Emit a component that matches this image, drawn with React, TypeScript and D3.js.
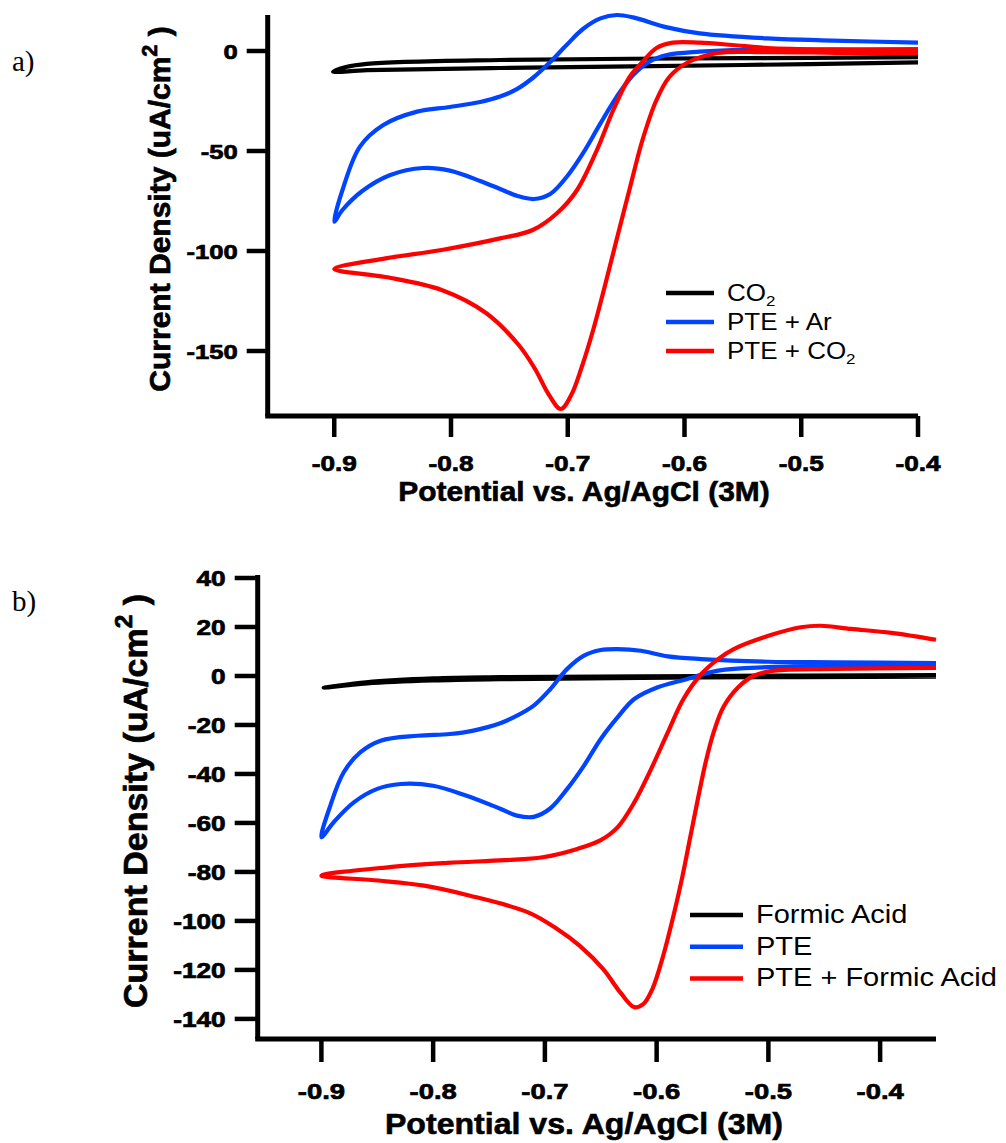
import React from "react";
import { scaleLinear, line, curveCatmullRom } from "d3";

// ---- panel a data: potential (V) vs current density (uA/cm2) ----
const co2A: [number, number][] = [
  [-0.4, -5.7], [-0.55, -7], [-0.758, -8.5], [-0.872, -9.6], [-0.901, -10.3],
  [-0.89, -8], [-0.872, -6.4], [-0.758, -4.5], [-0.55, -3.6], [-0.4, -3.1],
];
const pteArA: [number, number][] = [
  [-0.4, 0.8], [-0.5, 0.6], [-0.559, 0.5], [-0.587, -0.3], [-0.615, -2], [-0.63, -5.3],
  [-0.644, -12], [-0.658, -22.8], [-0.672, -36.2], [-0.687, -51.2], [-0.701, -63],
  [-0.715, -71.5], [-0.729, -74], [-0.743, -72.5], [-0.758, -69], [-0.775, -65],
  [-0.801, -59.8], [-0.824, -58.5], [-0.852, -62], [-0.876, -70], [-0.893, -79.5],
  [-0.9, -85.3],
  [-0.892, -67.8], [-0.878, -47.8], [-0.858, -37], [-0.829, -30.3], [-0.801, -28],
  [-0.775, -25.5], [-0.758, -22.8], [-0.744, -19.2], [-0.73, -13.5], [-0.715, -5.5],
  [-0.701, 3], [-0.687, 11], [-0.672, 16.3], [-0.658, 18], [-0.644, 16.8],
  [-0.615, 11.8], [-0.587, 8.8], [-0.529, 6.3], [-0.473, 5.2], [-0.4, 4.2],
];
const pteCo2A: [number, number][] = [
  [-0.4, -1.2], [-0.47, -0.9], [-0.53, -0.6], [-0.572, -1], [-0.598, -6], [-0.613, -13],
  [-0.624, -24.5], [-0.636, -44.5], [-0.647, -69], [-0.658, -94], [-0.668, -117],
  [-0.678, -139], [-0.688, -158], [-0.697, -172], [-0.706, -179], [-0.716, -172],
  [-0.728, -159], [-0.742, -147], [-0.77, -131], [-0.808, -119.5], [-0.856, -113],
  [-0.9, -109],
  [-0.856, -103.7], [-0.808, -99.5], [-0.758, -93.7], [-0.73, -89.5], [-0.709, -81],
  [-0.692, -69.5], [-0.675, -49.5], [-0.661, -29.5], [-0.647, -13], [-0.636, -5.5],
  [-0.624, 1.5], [-0.61, 4.2], [-0.587, 4.2], [-0.559, 3], [-0.529, 1.5],
  [-0.473, 0.8], [-0.4, 0.8],
];

// ---- panel b data ----
const formicB: [number, number][] = [
  [-0.35, -0.3], [-0.56, -0.6], [-0.74, -1.3], [-0.8, -1.8], [-0.859, -3], [-0.898, -4.8],
  [-0.86, -2.6], [-0.8, -1.0], [-0.74, -0.5], [-0.56, 0], [-0.35, 0.4],
];
const pteB: [number, number][] = [
  [-0.35, 4.5], [-0.5, 3.6], [-0.545, 2.2], [-0.575, -1.5], [-0.599, -4.6], [-0.62, -9.4],
  [-0.635, -16.9], [-0.65, -25.7], [-0.665, -36.6], [-0.68, -46.1], [-0.695, -54],
  [-0.71, -57.5], [-0.725, -57], [-0.74, -54.2], [-0.77, -48.9], [-0.8, -44.8],
  [-0.829, -44.1], [-0.85, -46.1], [-0.871, -51.6], [-0.889, -59.7], [-0.9, -65.8],
  [-0.892, -52.9], [-0.88, -39.3], [-0.865, -31.1], [-0.847, -26.4], [-0.814, -24.4],
  [-0.785, -23.7], [-0.764, -22.3], [-0.74, -19.3], [-0.725, -16.2], [-0.71, -12.1],
  [-0.695, -5.3], [-0.68, 2.9], [-0.665, 8.3], [-0.65, 10.6], [-0.635, 11],
  [-0.614, 10.3], [-0.59, 8], [-0.56, 6.9], [-0.5, 5.8], [-0.441, 5.6], [-0.35, 5.3],
];
const pteFormicB: [number, number][] = [
  [-0.35, 3.3], [-0.441, 2.9], [-0.495, 2.2], [-0.513, 0.1], [-0.527, -4.6], [-0.54, -12.5],
  [-0.549, -23], [-0.556, -35], [-0.563, -50], [-0.57, -66], [-0.577, -82],
  [-0.585, -98], [-0.594, -114], [-0.604, -128], [-0.612, -134], [-0.62, -135.2],
  [-0.632, -129.5], [-0.648, -119.6], [-0.669, -110.1], [-0.689, -103.3], [-0.715, -96.5],
  [-0.767, -89.7], [-0.808, -85.6], [-0.849, -83.5], [-0.9, -81.5],
  [-0.839, -78], [-0.787, -76.3], [-0.736, -75.2], [-0.702, -74], [-0.671, -70.6],
  [-0.65, -67], [-0.635, -61.8], [-0.62, -51.6], [-0.605, -38], [-0.59, -23],
  [-0.576, -9.4], [-0.56, 0.8], [-0.545, 6.9], [-0.531, 11], [-0.5, 16.4],
  [-0.471, 19.9], [-0.453, 20.5], [-0.426, 19.2], [-0.39, 17.6], [-0.35, 14.8],
];

const xTicks = [-0.9, -0.8, -0.7, -0.6, -0.5, -0.4];
const yTicksA = [0, -50, -100, -150];
const yTicksB = [40, 20, 0, -20, -40, -60, -80, -100, -120, -140];

const BLACK = "#000000";
const BLUE = "#0044ff";
const RED = "#ff0000";

const ARIAL = "'Liberation Sans', Arial, sans-serif";

function SText({ x, y, sx = 1, anchor = "start", size, weight = "normal", family = ARIAL, rotate = 0, heavy = 0, children }: any) {
  return (
    <text
      transform={`translate(${x},${y}) rotate(${rotate}) scale(${sx},1)`}
      textAnchor={anchor}
      fontSize={size}
      fontWeight={weight}
      fontFamily={family}
      fill="#000"
      stroke={heavy ? "#000" : "none"}
      strokeWidth={heavy}
    >
      {children}
    </text>
  );
}

function Panel({ cfg }: any) {
  const x = scaleLinear().domain(cfg.xDomain).range(cfg.xRange);
  const y = scaleLinear().domain(cfg.yDomain).range(cfg.yRange);
  const path = line<[number, number]>()
    .x((d) => x(d[0]))
    .y((d) => y(d[1]))
    .curve(curveCatmullRom.alpha(0.5));
  const x0 = cfg.xRange[0];
  const x1 = cfg.xRange[1];
  const yb = cfg.yRange[0];
  const yt = cfg.yTop;
  return (
    <g>
      {cfg.series.map((s: any) => (
        <path key={s.name} d={path(s.data) || ""} fill="none" stroke={s.color} strokeWidth={4.2} strokeLinejoin="round" />
      ))}
      {/* axes */}
      <line x1={x0} x2={x0} y1={yt} y2={yb} stroke="#000" strokeWidth={5} />
      <line x1={x0 - 2.5} x2={x1} y1={yb} y2={yb} stroke="#000" strokeWidth={5} />
      {cfg.yTicks.map((t: number) => (
        <g key={"y" + t}>
          <line x1={x0 - cfg.tickLen} x2={x0} y1={y(t)} y2={y(t)} stroke="#000" strokeWidth={4.5} />
          <SText x={x0 - cfg.tickLen - 9} y={y(t) + cfg.yLabelDy} sx={1.22} anchor="end" size={cfg.tickSize} weight="bold" heavy={0.7}>
            {String(t)}
          </SText>
        </g>
      ))}
      {xTicks.map((t) => (
        <g key={"x" + t}>
          <line x1={x(t)} x2={x(t)} y1={yb} y2={yb + cfg.tickLen} stroke="#000" strokeWidth={4.5} />
          <SText x={x(t)} y={cfg.xLabelY} sx={1.22} anchor="middle" size={cfg.xTickSize} weight="bold" heavy={0.7}>
            {String(t)}
          </SText>
        </g>
      ))}
      {/* axis titles */}
      <SText x={cfg.xTitleX} y={cfg.xTitleY} sx={1.07} anchor="middle" size={cfg.xTitleSize} weight="bold" heavy={0.6}>
        Potential vs. Ag/AgCl (3M)
      </SText>
      <SText x={cfg.yTitleX} y={cfg.yTitleY} rotate={-90} anchor="middle" size={cfg.yTitleSize} weight="bold" heavy={0.7}>
        Current Density (uA/cm
        <tspan fontSize={cfg.yTitleSize * 0.72} dy={-cfg.yTitleSize * 0.45}>2</tspan>
        <tspan dy={cfg.yTitleSize * 0.45}> )</tspan>
      </SText>
      {/* legend */}
      {cfg.series.map((s: any, i: number) => {
        const ly = cfg.legendY + i * cfg.legendGap;
        return (
          <g key={"lg" + s.name}>
            <line x1={cfg.legendX} x2={cfg.legendX + cfg.legendLen} y1={ly} y2={ly} stroke={s.color} strokeWidth={4.5} />
            <SText x={cfg.legendX + cfg.legendLen + 13} y={ly + 8} sx={cfg.legendSx} size={cfg.legendSize}>
              {s.label}
            </SText>
          </g>
        );
      })}
      <SText x={12} y={cfg.tagY} size={29} family="'Liberation Serif', 'Times New Roman', serif">
        {cfg.tag}
      </SText>
    </g>
  );
}

const co2Label = (
  <>
    CO<tspan fontSize={15} dy={5}>2</tspan>
  </>
);

export default function App() {
  const panelA = {
    tag: "a)",
    tagY: 71,
    xDomain: [-0.957, -0.4],
    xRange: [267.7, 918],
    yDomain: [-182.5, 18],
    yRange: [416, 15],
    yTop: 15,
    yTicks: yTicksA,
    tickLen: 21,
    tickSize: 21,
    xTickSize: 21.5,
    yLabelDy: 7.5,
    xLabelY: 471,
    xTitleX: 584,
    xTitleY: 501,
    xTitleSize: 28,
    yTitleX: 170,
    yTitleY: 209,
    yTitleSize: 30,
    legendX: 666,
    legendLen: 48,
    legendY: 293,
    legendGap: 29,
    legendSize: 23,
    legendSx: 1.13,
    series: [
      { name: "co2", label: co2Label, color: BLACK, data: co2A },
      { name: "ar", label: "PTE + Ar", color: BLUE, data: pteArA },
      { name: "pteco2", label: <>PTE + {co2Label}</>, color: RED, data: pteCo2A },
    ],
  };
  const panelB = {
    tag: "b)",
    tagY: 611,
    xDomain: [-0.957, -0.35],
    xRange: [257.7, 936],
    yDomain: [-148.2, 40],
    yRange: [1039, 578],
    yTop: 575,
    yTicks: yTicksB,
    tickLen: 23,
    tickSize: 21.5,
    xTickSize: 22.5,
    yLabelDy: 8,
    xLabelY: 1099,
    xTitleX: 584,
    xTitleY: 1134,
    xTitleSize: 30,
    yTitleX: 147,
    yTitleY: 801,
    yTitleSize: 34,
    legendX: 690,
    legendLen: 53,
    legendY: 915,
    legendGap: 31.7,
    legendSize: 25,
    legendSx: 1.16,
    series: [
      { name: "fa", label: "Formic Acid", color: BLACK, data: formicB },
      { name: "pte", label: "PTE", color: BLUE, data: pteB },
      { name: "ptefa", label: "PTE + Formic Acid", color: RED, data: pteFormicB },
    ],
  };
  return (
    <svg width={1006} height={1143} style={{ position: "absolute", left: 0, top: 0, background: "#fff" }}>
      <Panel cfg={panelA} />
      <Panel cfg={panelB} />
    </svg>
  );
}
